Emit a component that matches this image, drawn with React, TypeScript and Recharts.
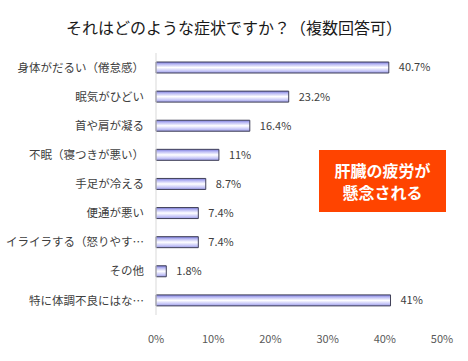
import { BarChart, Bar, XAxis, YAxis, LabelList } from "recharts";

const categories = [
  "身体がだるい（倦怠感）",
  "眠気がひどい",
  "首や肩が凝る",
  "不眠（寝つきが悪い）",
  "手足が冷える",
  "便通が悪い",
  "イライラする（怒りやす…",
  "その他",
  "特に体調不良にはな…",
];
const values = [40.7, 23.2, 16.4, 11, 8.7, 7.4, 7.4, 1.8, 41];
const valueLabels = ["40.7%", "23.2%", "16.4%", "11%", "8.7%", "7.4%", "7.4%", "1.8%", "41%"];
const xTicks = [0, 10, 20, 30, 40, 50];

const title = "それはどのような症状ですか？（複数回答可）";
const callout = ["肝臓の疲労が", "懸念される"];

const font = "'Noto Sans CJK JP', 'Noto Sans', sans-serif";

export default function App() {
  const data = categories.map((name, i) => ({ name, value: values[i], label: valueLabels[i] }));

  return (
    <div style={{ position: "absolute", left: 0, top: 0, width: 468, height: 361, background: "#fff", fontFamily: font }}>
      <div
        style={{
          position: "absolute", left: 0, top: 16, width: 468, textAlign: "center",
          fontSize: 16, fontWeight: 400, color: "#1a1a1a", lineHeight: "22px",
        }}
      >
        {title}
      </div>
      <BarChart
        width={468}
        height={361}
        layout="vertical"
        data={data}
        margin={{ top: 53, right: 26, bottom: 16, left: 0 }}
      >
        <defs>
          <linearGradient id="barGrad" x1="0" y1="0" x2="0" y2="1">
            <stop offset="0%" stopColor="#7878d8" />
            <stop offset="20%" stopColor="#b8b8f4" />
            <stop offset="50%" stopColor="#ffffff" />
            <stop offset="80%" stopColor="#c8c8f8" />
            <stop offset="100%" stopColor="#9a9ae4" />
          </linearGradient>
        </defs>
        <XAxis
          type="number"
          domain={[0, 50]}
          ticks={xTicks}
          tickFormatter={(v) => `${v}%`}
          height={30}
          axisLine={false}
          tickLine={false}
          tickMargin={14}
          tick={{ fill: "#595959", fontSize: 11, fontFamily: font }}
        />
        <YAxis
          type="category"
          dataKey="name"
          width={156}
          axisLine={{ stroke: "#d9d9d9" }}
          tickLine={false}
          tickSize={0}
          tickMargin={12}
          interval={0}
          tick={{ fill: "#404040", fontSize: 11.5, fontFamily: font }}
        />
        <Bar
          dataKey="value"
          barSize={11}
          fill="url(#barGrad)"
          stroke="#404058"
          strokeWidth={1}
          isAnimationActive={false}
        >
          <LabelList
            dataKey="label"
            position="right"
            offset={10}
            fill="#404040"
            fontSize={11}
            fontFamily={font}
          />
        </Bar>
      </BarChart>
      <div
        style={{
          position: "absolute", left: 319, top: 150, width: 127, height: 62,
          background: "#ff4400", color: "#fff", fontWeight: "bold", fontSize: 16,
          display: "flex", flexDirection: "column", alignItems: "center", justifyContent: "center",
          lineHeight: "22px",
        }}
      >
        <div>{callout[0]}</div>
        <div>{callout[1]}</div>
      </div>
    </div>
  );
}
